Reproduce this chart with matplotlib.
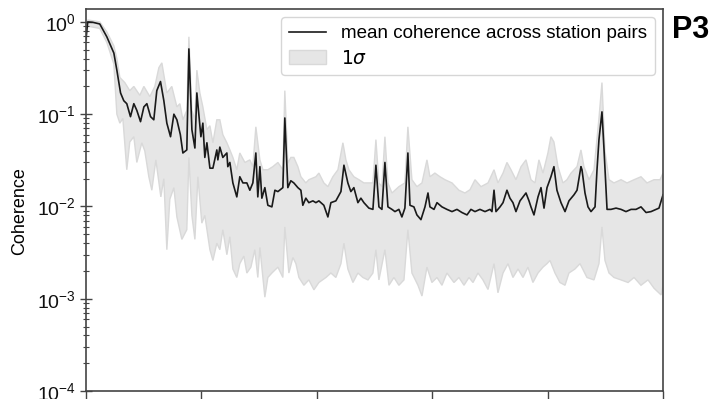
import numpy as np
import matplotlib
matplotlib.use("Agg")
import matplotlib.pyplot as plt

plt.rcParams['font.family'] = ['Liberation Sans', 'DejaVu Sans']

# mean coherence across station pairs
mean_x = [0.000, 0.017, 0.061, 0.121, 0.182, 0.243, 0.269, 0.301, 0.329, 0.355, 0.387, 0.416, 0.442, 0.474,
          0.503, 0.529, 0.561, 0.589, 0.615, 0.647, 0.676, 0.702, 0.734, 0.763, 0.789, 0.819, 0.841, 0.875,
          0.893, 0.919, 0.945, 0.962, 0.979, 0.997, 1.014, 1.031, 1.049, 1.075, 1.101, 1.135, 1.144, 1.161,
          1.187, 1.222, 1.230, 1.248, 1.274, 1.308, 1.334, 1.361, 1.395, 1.421, 1.447, 1.473, 1.490, 1.508,
          1.525, 1.551, 1.577, 1.612, 1.638, 1.664, 1.707, 1.724, 1.750, 1.776, 1.802, 1.837, 1.863, 1.880,
          1.906, 1.932, 1.967, 1.993, 2.019, 2.062, 2.097, 2.123, 2.166, 2.210, 2.236, 2.270, 2.296, 2.322,
          2.357, 2.383, 2.409, 2.452, 2.487, 2.513, 2.539, 2.565, 2.591, 2.617, 2.652, 2.678, 2.712, 2.738,
          2.764, 2.790, 2.808, 2.842, 2.868, 2.903, 2.938, 2.964, 2.981, 3.016, 3.042, 3.085, 3.128, 3.172,
          3.215, 3.258, 3.302, 3.336, 3.371, 3.414, 3.458, 3.501, 3.518, 3.536, 3.553, 3.588, 3.614, 3.648,
          3.674, 3.700, 3.726, 3.761, 3.787, 3.813, 3.839, 3.856, 3.882, 3.917, 3.943, 3.969, 3.995, 4.029,
          4.055, 4.081, 4.116, 4.151, 4.185, 4.229, 4.255, 4.289, 4.298, 4.324, 4.350, 4.376, 4.411, 4.428,
          4.445, 4.471, 4.489, 4.515, 4.549, 4.593, 4.636, 4.679, 4.723, 4.766, 4.809, 4.853, 4.896, 4.939,
          4.965, 5.000]
mean_y = [0.64, 1.0, 0.99, 0.95, 0.69, 0.46, 0.30, 0.17, 0.14, 0.13, 0.094, 0.13, 0.11, 0.083,
          0.12, 0.13, 0.094, 0.087, 0.18, 0.226, 0.14, 0.08, 0.057, 0.10, 0.087, 0.06, 0.038, 0.041,
          0.51, 0.068, 0.043, 0.17, 0.10, 0.057, 0.08, 0.034, 0.049, 0.026, 0.026, 0.041, 0.032, 0.044,
          0.034, 0.038, 0.027, 0.030, 0.018, 0.0127, 0.021, 0.018, 0.018, 0.015, 0.018, 0.038, 0.0127, 0.027,
          0.0123, 0.016, 0.0103, 0.0099, 0.015, 0.0145, 0.016, 0.091, 0.016, 0.019, 0.018, 0.016, 0.015, 0.0103,
          0.0123, 0.011, 0.0115, 0.011, 0.0115, 0.0103, 0.0077, 0.011, 0.0115, 0.0145, 0.028, 0.018, 0.0145, 0.016,
          0.011, 0.0123, 0.011, 0.0096, 0.0093, 0.028, 0.0099, 0.0093, 0.030, 0.0099, 0.0093, 0.0088, 0.0093, 0.0077,
          0.0096, 0.038, 0.0103, 0.0099, 0.0081, 0.0072, 0.0099, 0.014, 0.0099, 0.0093, 0.011, 0.0099, 0.0093, 0.0088,
          0.0093, 0.0086, 0.0081, 0.0093, 0.0088, 0.0093, 0.0088, 0.0093, 0.0088, 0.015, 0.0088, 0.0099, 0.011, 0.015,
          0.0123, 0.011, 0.0088, 0.0115, 0.0127, 0.014, 0.0115, 0.0099, 0.0081, 0.0127, 0.016, 0.0096, 0.016, 0.021,
          0.027, 0.015, 0.011, 0.0088, 0.0115, 0.0134, 0.015, 0.027, 0.025, 0.014, 0.0099, 0.0088, 0.0099, 0.025,
          0.053, 0.106, 0.041, 0.0093, 0.0093, 0.0096, 0.0093, 0.0088, 0.0093, 0.0093, 0.0099, 0.0086, 0.0088, 0.0093,
          0.0096, 0.0134]

# upper edge of the 1 sigma band
upper_x = [0.000, 0.017, 0.121, 0.182, 0.243, 0.269, 0.295, 0.338, 0.381, 0.416, 0.468, 0.503, 0.555, 0.598,
           0.633, 0.659, 0.702, 0.745, 0.789, 0.815, 0.841, 0.875, 0.893, 0.919, 0.945, 0.962, 0.988, 1.014,
           1.049, 1.075, 1.101, 1.135, 1.161, 1.187, 1.222, 1.248, 1.274, 1.308, 1.334, 1.378, 1.421, 1.447,
           1.473, 1.508, 1.534, 1.577, 1.620, 1.664, 1.707, 1.724, 1.750, 1.776, 1.802, 1.837, 1.863, 1.906,
           1.932, 1.993, 2.019, 2.062, 2.097, 2.140, 2.184, 2.227, 2.253, 2.279, 2.322, 2.366, 2.409, 2.452,
           2.487, 2.513, 2.539, 2.565, 2.591, 2.617, 2.652, 2.712, 2.764, 2.790, 2.825, 2.868, 2.912, 2.955,
           2.981, 3.024, 3.068, 3.111, 3.172, 3.232, 3.284, 3.328, 3.371, 3.423, 3.484, 3.536, 3.570, 3.614,
           3.648, 3.683, 3.726, 3.770, 3.813, 3.856, 3.891, 3.925, 3.960, 4.003, 4.029, 4.055, 4.090, 4.133,
           4.168, 4.203, 4.255, 4.289, 4.315, 4.359, 4.402, 4.445, 4.471, 4.497, 4.532, 4.575, 4.636, 4.688,
           4.749, 4.809, 4.861, 4.922, 4.974, 5.000]
upper_y = [0.8, 1.05, 1.0, 0.78, 0.55, 0.40, 0.25, 0.22, 0.18, 0.20, 0.16, 0.20, 0.155, 0.20,
           0.32, 0.36, 0.17, 0.20, 0.12, 0.13, 0.087, 0.11, 0.69, 0.11, 0.087, 0.30, 0.17, 0.12,
           0.068, 0.075, 0.049, 0.087, 0.087, 0.06, 0.049, 0.041, 0.034, 0.025, 0.038, 0.03, 0.032, 0.027,
           0.073, 0.032, 0.025, 0.025, 0.027, 0.030, 0.025, 0.18, 0.0295, 0.034, 0.034, 0.027, 0.021, 0.018,
           0.0195, 0.021, 0.023, 0.018, 0.0164, 0.021, 0.025, 0.049, 0.032, 0.025, 0.021, 0.0195, 0.018, 0.018,
           0.018, 0.053, 0.018, 0.0164, 0.057, 0.018, 0.014, 0.0164, 0.018, 0.073, 0.0195, 0.0164, 0.018, 0.032,
           0.021, 0.023, 0.021, 0.0195, 0.018, 0.015, 0.014, 0.0152, 0.0195, 0.0164, 0.018, 0.025, 0.018, 0.023,
           0.030, 0.025, 0.0195, 0.027, 0.032, 0.0195, 0.018, 0.032, 0.023, 0.038, 0.057, 0.05, 0.027, 0.018,
           0.0195, 0.023, 0.027, 0.041, 0.027, 0.0195, 0.025, 0.09, 0.22, 0.04, 0.0195, 0.018, 0.0195, 0.018,
           0.0195, 0.021, 0.018, 0.0195, 0.0195, 0.023]

# lower edge of the 1 sigma band
lower_x = [0.000, 0.017, 0.121, 0.182, 0.243, 0.269, 0.295, 0.321, 0.355, 0.381, 0.416, 0.442, 0.485, 0.511,
           0.546, 0.572, 0.607, 0.650, 0.676, 0.702, 0.728, 0.763, 0.789, 0.832, 0.875, 0.893, 0.919, 0.945,
           0.971, 1.005, 1.031, 1.075, 1.101, 1.135, 1.161, 1.187, 1.222, 1.248, 1.274, 1.308, 1.334, 1.369,
           1.395, 1.430, 1.464, 1.490, 1.508, 1.551, 1.577, 1.612, 1.664, 1.707, 1.724, 1.759, 1.794, 1.820,
           1.846, 1.889, 1.932, 1.976, 2.019, 2.080, 2.123, 2.166, 2.210, 2.236, 2.270, 2.314, 2.357, 2.400,
           2.444, 2.487, 2.513, 2.539, 2.591, 2.626, 2.669, 2.712, 2.756, 2.790, 2.825, 2.877, 2.912, 2.955,
           2.998, 3.042, 3.085, 3.128, 3.189, 3.232, 3.276, 3.319, 3.354, 3.397, 3.440, 3.484, 3.536, 3.570,
           3.614, 3.657, 3.700, 3.744, 3.787, 3.830, 3.873, 3.917, 3.960, 3.995, 4.021, 4.064, 4.107, 4.151,
           4.185, 4.237, 4.281, 4.341, 4.402, 4.445, 4.471, 4.497, 4.532, 4.575, 4.636, 4.697, 4.749, 4.809,
           4.870, 4.922, 4.983, 5.000]
lower_y = [0.5, 0.9, 0.85, 0.6, 0.35, 0.10, 0.08, 0.09, 0.025, 0.05, 0.057, 0.03, 0.049, 0.04,
           0.021, 0.015, 0.032, 0.0127, 0.02, 0.0034, 0.012, 0.016, 0.0077, 0.0044, 0.0056, 0.034, 0.008, 0.0044,
           0.021, 0.0066, 0.008, 0.0034, 0.0026, 0.004, 0.0034, 0.0056, 0.003, 0.0047, 0.0021, 0.0017, 0.0024, 0.0029,
           0.0019, 0.0022, 0.0034, 0.0017, 0.0036, 0.00104, 0.0017, 0.0019, 0.0022, 0.0017, 0.006, 0.0019, 0.0028, 0.0024,
           0.0017, 0.0014, 0.0016, 0.00125, 0.0015, 0.0017, 0.0019, 0.0017, 0.0024, 0.004, 0.0021, 0.0015, 0.0019, 0.0017,
           0.0016, 0.0019, 0.0034, 0.0016, 0.0034, 0.0014, 0.0017, 0.0014, 0.0016, 0.0056, 0.0019, 0.0014, 0.00107, 0.0022,
           0.0015, 0.0017, 0.0014, 0.0019, 0.0015, 0.0017, 0.0014, 0.0017, 0.0015, 0.0019, 0.0016, 0.00126, 0.0024, 0.00116,
           0.0019, 0.0024, 0.0017, 0.0021, 0.0017, 0.0022, 0.0015, 0.0019, 0.0022, 0.0024, 0.0026, 0.0019, 0.0015, 0.0014,
           0.0019, 0.0021, 0.0024, 0.0017, 0.0016, 0.0024, 0.006, 0.0026, 0.0019, 0.0017, 0.0016, 0.0015, 0.0017, 0.0014,
           0.0016, 0.0013, 0.0011, 0.0014]

x_ticks = [0, 1, 2, 3, 4, 5]

fig = plt.figure(figsize=(7.21, 3.99), dpi=100)
ax = fig.add_axes([0.119, 0.02, 0.8006, 0.9574])

band_x = np.concatenate([upper_x, lower_x[::-1]])
band_y = np.concatenate([upper_y, lower_y[::-1]])
band = ax.fill(band_x, band_y, facecolor='#e6e6e6', edgecolor='#d9d9d9', lw=1.0, label=r'$1\sigma$')[0]
line, = ax.plot(mean_x, mean_y, color='#1a1a1a', lw=1.2, label='mean coherence across station pairs')

ax.set_yscale('log')
ax.set_ylim(1e-4, 1.38)
ax.set_xlim(0, 5)
ax.set_xticks(x_ticks)
ax.set_xticklabels([])
ax.set_ylabel('Coherence', fontsize=13)
ax.yaxis.set_label_coords(-0.1, 0.47)

for sp in ax.spines.values():
    sp.set_color('#444444')
    sp.set_linewidth(1.2)
ax.tick_params(axis='y', which='major', direction='inout', length=8, width=1, colors='#444444',
               labelcolor='#111111', labelsize=14, pad=3)
ax.tick_params(axis='y', which='minor', direction='inout', length=4, width=0.8, colors='#444444')
ax.tick_params(axis='x', which='major', direction='out', length=6, width=1, colors='#444444')

leg = ax.legend([line, band], ['mean coherence across station pairs', r'$1\sigma$'],
                loc='upper right', fontsize=13.5, frameon=True, borderaxespad=0.45,
                labelspacing=0.4)
leg.get_frame().set_edgecolor('#cccccc')

fig.text(0.932, 0.962, 'P3', fontsize=22, fontweight='bold', ha='left', va='top')

fig.savefig('out.png', dpi=100)
